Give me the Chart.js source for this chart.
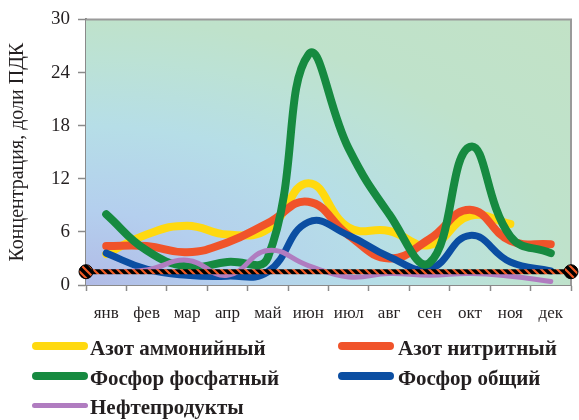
<!DOCTYPE html>
<html lang="ru">
<head>
<meta charset="utf-8">
<script src="https://cdn.jsdelivr.net/npm/chart.js@4/dist/chart.umd.min.js"></script>
<style>
  html, body { margin: 0; padding: 0; background: #fff; }
  #wrap { position: relative; width: 579px; height: 420px; }
  #chart { position: absolute; left: 0; top: 0; }
  .lg { position: absolute; font: bold 21px "Liberation Serif", "Times New Roman", serif; color: #231f20; white-space: nowrap; line-height: 24px; }
  .sw { position: absolute; height: 8px; border-radius: 4px; }
</style>
</head>
<body>
<div id="wrap">
  <canvas id="chart" width="579" height="420"></canvas>
  <div id="legend"></div>
</div>
<script>
// Месяцы наблюдений
const months = ['янв', 'фев', 'мар', 'апр', 'май', 'июн', 'июл', 'авг', 'сен', 'окт', 'ноя', 'дек'];

// Концентрации, доли ПДК
const ammonium  = [3.5, 5.7, 6.7, 5.7, 6.3, 11.5, 6.5, 6.1, 4.5, 7.8, 6.9, null];
const nitrite   = [4.4, 4.4, 3.7, 4.8, 7.0, 9.4, 5.6, 3.0, 5.2, 8.5, 5.0, 4.6];
const phosphate = [8.0, 3.9, 2.1, 2.6, 3.1, 26.0, 15.4, 8.0, 2.5, 15.6, 5.5, 3.6];
const phosTotal = [3.6, 1.8, 1.1, 1.0, 1.5, 7.1, 5.6, 3.2, 1.8, 5.6, 2.6, 1.6];
const oil       = [1.5, 1.7, 2.8, 1.1, 3.9, 2.2, 0.9, 1.3, 1.1, 1.3, 1.0, 0.4];

// Уровень-ориентир и шкала
const refLevel = 1.5;
const yTicks = [0, 6, 12, 18, 24, 30];

// Полосатая заливка для линии-ориентира
function ropePattern() {
  const c = document.createElement('canvas');
  c.width = 8; c.height = 8;
  const g = c.getContext('2d');
  g.fillStyle = '#000';
  g.fillRect(0, 0, 8, 8);
  g.strokeStyle = '#f15a24';
  g.lineWidth = 2.2;
  g.beginPath();
  g.moveTo(-2, -2); g.lineTo(10, 10);
  g.moveTo(-10, -2); g.lineTo(2, 10);
  g.moveTo(6, -2); g.lineTo(18, 10);
  g.stroke();
  return document.getElementById('chart').getContext('2d').createPattern(c, 'repeat');
}
const rope = ropePattern();

const series = [
  { label: 'Азот аммонийный', data: ammonium,  color: '#ffd90f', width: 8, order: 5 },
  { label: 'Азот нитритный',  data: nitrite,   color: '#f0532a', width: 8, order: 4 },
  { label: 'Фосфор фосфатный', data: phosphate, color: '#168a40', width: 8, order: 2 },
  { label: 'Фосфор общий',    data: phosTotal, color: '#0b4ea2', width: 7, order: 3 },
  { label: 'Нефтепродукты',   data: oil,       color: '#b07cc0', width: 5, order: 1 }
];

const datasets = series.map(s => ({
  label: s.label,
  data: s.data,
  borderColor: s.color,
  backgroundColor: s.color,
  borderWidth: s.width,
  borderCapStyle: 'round',
  borderJoinStyle: 'round',
  tension: 0.45,
  pointRadius: 0,
  fill: false,
  spanGaps: false,
  order: s.order
}));

datasets.push({
  label: 'ПДК',
  xAxisID: 'x2',
  data: [{ x: 0, y: refLevel }, { x: months.length, y: refLevel }],
  borderColor: rope,
  borderWidth: 5,
  pointRadius: 7,
  pointStyle: 'circle',
  pointBackgroundColor: rope,
  pointBorderColor: '#000',
  pointBorderWidth: 1,
  tension: 0,
  clip: false,
  order: 0
});

// Фон области построения
const plotBackdrop = {
  id: 'plotBackdrop',
  beforeDatasetsDraw(chart) {
    const { ctx, chartArea: a } = chart;
    ctx.save();
    ctx.beginPath();
    ctx.rect(a.left, a.top, a.right - a.left, a.bottom - a.top);
    ctx.clip();
    ctx.translate(a.left, a.bottom);
    ctx.scale(a.right - a.left, a.bottom - a.top);
    const R = 1.42;
    const grd = ctx.createRadialGradient(0, 0, 0, 0, 0, R);
    grd.addColorStop(0, '#b1bbe6');
    grd.addColorStop(0.28 / R, '#b4cfee');
    grd.addColorStop(0.6 / R, '#b6dee7');
    grd.addColorStop(0.85 / R, '#bce2d5');
    grd.addColorStop(1.0 / R, '#bfe2cb');
    grd.addColorStop(1, '#c2e2c6');
    ctx.fillStyle = grd;
    ctx.fillRect(0, -1, 1, 1);
    ctx.restore();
  }
};

// Верхняя и правая рамка области построения
const plotFrame = {
  id: 'plotFrame',
  beforeDatasetsDraw(chart) {
    const { ctx, chartArea: a } = chart;
    ctx.save();
    ctx.strokeStyle = '#9a9a9a';
    ctx.lineWidth = 2;
    ctx.beginPath();
    ctx.moveTo(a.left, a.top);
    ctx.lineTo(a.right, a.top);
    ctx.lineTo(a.right, a.bottom);
    ctx.stroke();
    ctx.restore();
  }
};

const chart = new Chart(document.getElementById('chart'), {
  type: 'line',
  data: { labels: months, datasets },
  options: {
    responsive: false,
    animation: false,
    events: [],
    layout: { padding: { left: 0, right: 3, top: 15, bottom: 0 } },
    plugins: { legend: { display: false }, tooltip: { enabled: false } },
    scales: {
      x: {
        type: 'category',
        offset: true,
        afterFit(scale) { scale.height = 135; },
        grid: { offset: true, drawOnChartArea: false, drawTicks: true, tickLength: 6, tickColor: '#8a8a8a', tickWidth: 1.5 },
        border: { color: '#8a8a8a', width: 2 },
        ticks: { color: '#231f20', padding: 12, font: { family: '"Liberation Serif", serif', size: 17 }, maxRotation: 0, autoSkip: false }
      },
      x2: { type: 'linear', min: 0, max: months.length, display: false },
      y: {
        min: 0, max: 30,
        afterFit(scale) { scale.width = 86; },
        afterBuildTicks(scale) { scale.ticks = yTicks.map(v => ({ value: v })); },
        grid: {
          color: c => (c.tick && (c.tick.value === 0 || c.tick.value === 30)) ? 'rgba(0,0,0,0)' : '#1e1e1e',
          lineWidth: 1,
          tickLength: 8,
          tickColor: '#8a8a8a',
          tickWidth: 1.5
        },
        border: { color: '#8a8a8a', width: 2 },
        ticks: { color: '#231f20', padding: 8, font: { family: '"Liberation Serif", serif', size: 19 } },
        title: {
          display: true,
          text: 'Концентрация, доли ПДК',
          color: '#231f20',
          font: { family: '"Liberation Serif", serif', size: 20 },
          padding: { top: 6, bottom: 0 }
        }
      }
    }
  },
  plugins: [plotBackdrop, plotFrame]
});

// Легенда в две колонки
const legendPos = [
  { sx: 32, tx: 90, y: 348 },
  { sx: 338, tx: 398, y: 348 },
  { sx: 32, tx: 90, y: 378 },
  { sx: 338, tx: 398, y: 378 },
  { sx: 32, tx: 90, y: 407 }
];
const legend = document.getElementById('legend');
series.forEach((s, i) => {
  const p = legendPos[i];
  const sw = document.createElement('div');
  sw.className = 'sw';
  const h = s.width >= 7 ? 8 : 5;
  sw.style.cssText = `left:${p.sx}px;top:${p.y - 2 - h / 2}px;width:56px;height:${h}px;background:${s.color};border-radius:4px;`;
  legend.appendChild(sw);
  const t = document.createElement('div');
  t.className = 'lg';
  t.textContent = s.label;
  t.style.left = p.tx + 'px';
  t.style.top = (p.y - 12) + 'px';
  legend.appendChild(t);
});
</script>
</body>
</html>
